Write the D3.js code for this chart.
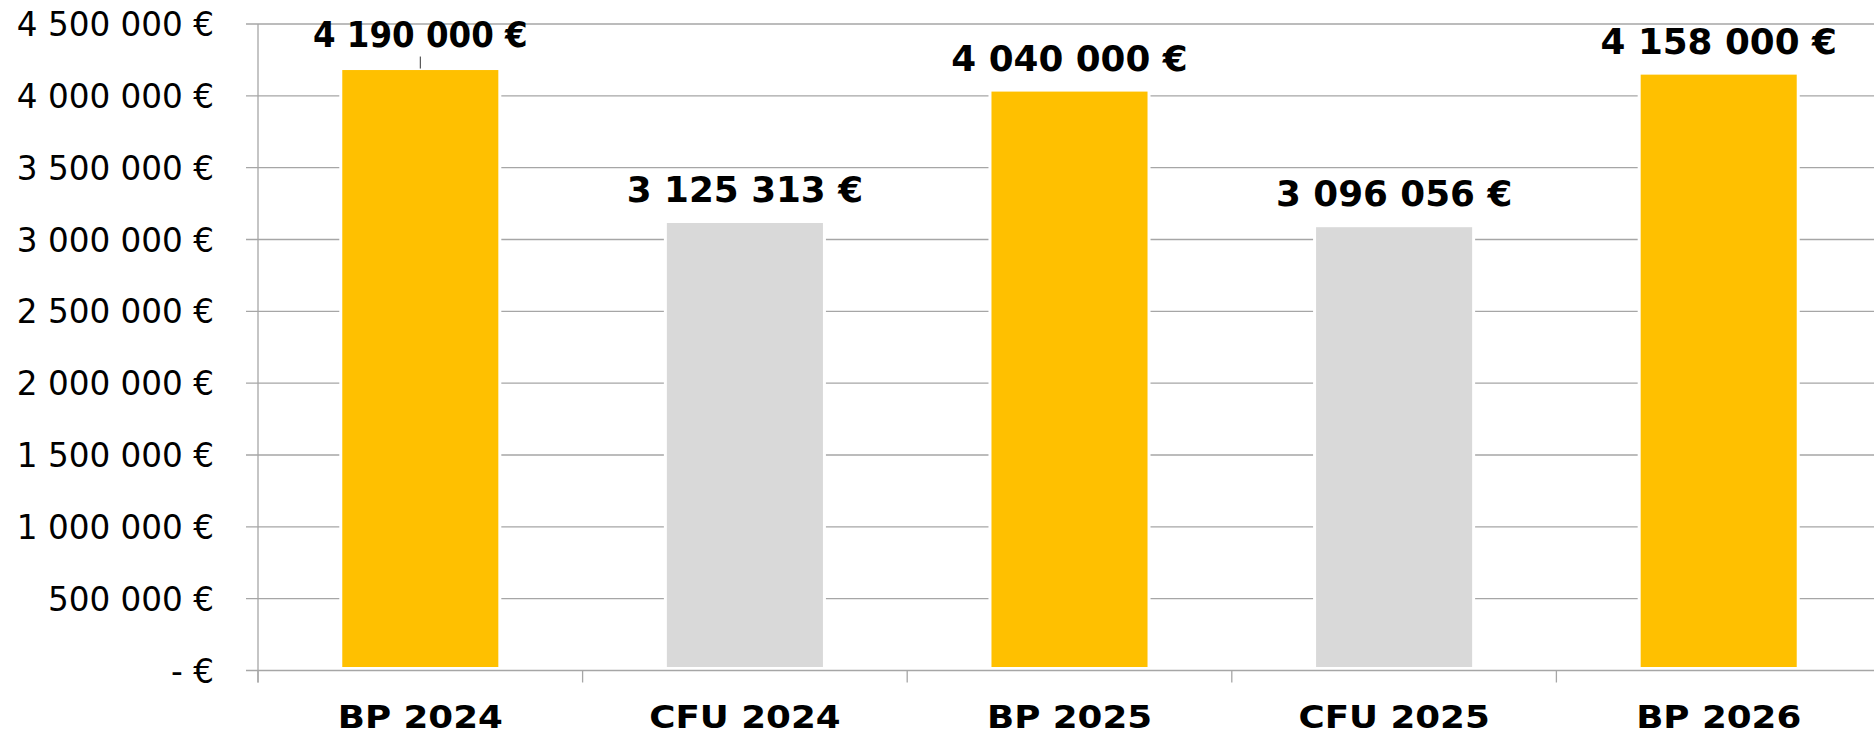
<!DOCTYPE html>
<html>
<head>
<meta charset="utf-8">
<script src="https://cdn.jsdelivr.net/npm/d3@7"></script>
<style>
  html, body { margin: 0; padding: 0; background: #fff; }
  svg { display: block; }
</style>
</head>
<body>
<svg id="chart"></svg>
<script>
"use strict";

// DATA
var categories = ["BP 2024", "CFU 2024", "BP 2025", "CFU 2025", "BP 2026"];
var values = [4190000, 3125313, 4040000, 3096056, 4158000];
var barColors = ["#FFC000", "#D9D9D9", "#FFC000", "#D9D9D9", "#FFC000"];
var yTicks = [0, 500000, 1000000, 1500000, 2000000, 2500000, 3000000, 3500000, 4000000, 4500000];
var yTickLabels = ["- €", "500 000 €", "1 000 000 €", "1 500 000 €", "2 000 000 €",
                   "2 500 000 €", "3 000 000 €", "3 500 000 €", "4 000 000 €", "4 500 000 €"];

var width = 1874,
    height = 735;

var plotLeft = 258,
    plotTop = 24,
    plotBottom = 670.5,
    band = 324.6;

var fr = d3.formatLocale({ decimal: ",", thousands: " ", grouping: [3], currency: ["", " €"] });
var money = fr.format("$,.0f");

var svg = d3.select("#chart").attr("width", width).attr("height", height);

var x = d3.scaleBand().domain(categories).range([plotLeft, plotLeft + band * categories.length]);
var y = d3.scaleLinear().domain([0, 4500000]).range([plotBottom, plotTop]);

var gridColor = "#A6A6A6";

// GRIDLINES
svg.append("g").selectAll("line")
  .data(yTicks.filter(function (d) { return d > 0; }))
  .enter().append("line")
  .attr("x1", plotLeft - 12).attr("x2", width)
  .attr("y1", function (d) { return y(d); })
  .attr("y2", function (d) { return y(d); })
  .attr("stroke", gridColor).attr("stroke-width", 1.3);

// BARS
var bw = x.bandwidth() * 0.49;
svg.append("g").selectAll("rect")
  .data(values)
  .enter().append("rect")
  .attr("x", function (d, i) { return x(categories[i]) + (x.bandwidth() - bw) / 2; })
  .attr("y", function (d) { return y(d); })
  .attr("width", bw)
  .attr("height", function (d) { return y(0) - y(d) - 2; })
  .attr("fill", function (d, i) { return barColors[i]; })
  .attr("stroke", "#fff").attr("stroke-width", 3);

// AXES
svg.append("line")
  .attr("x1", plotLeft).attr("x2", plotLeft)
  .attr("y1", plotTop).attr("y2", plotBottom + 12)
  .attr("stroke", gridColor).attr("stroke-width", 1.3);
svg.append("line")
  .attr("x1", plotLeft - 12).attr("x2", width)
  .attr("y1", plotBottom).attr("y2", plotBottom)
  .attr("stroke", gridColor).attr("stroke-width", 1.3);

svg.append("g").selectAll("line")
  .data(categories)
  .enter().append("line")
  .attr("x1", function (d) { return x(d); })
  .attr("x2", function (d) { return x(d); })
  .attr("y1", plotBottom).attr("y2", plotBottom + 12)
  .attr("stroke", gridColor).attr("stroke-width", 1.3);

// Y LABELS
svg.append("g").selectAll("text")
  .data(yTicks)
  .enter().append("text")
  .attr("transform", function (d) { return "translate(214," + (y(d) + 12) + ") scale(0.96,1)"; })
  .attr("text-anchor", "end")
  .attr("font-family", "DejaVu Sans, Verdana, sans-serif")
  .attr("font-size", 34)
  .attr("fill", "#000")
  .text(function (d, i) { return yTickLabels[i]; });

// X LABELS
svg.append("g").selectAll("text")
  .data(categories)
  .enter().append("text")
  .attr("transform", function (d) { return "translate(" + (x(d) + x.bandwidth() / 2) + ",728) scale(1.05,0.95)"; })
  .attr("text-anchor", "middle")
  .attr("font-family", "DejaVu Sans, Verdana, sans-serif")
  .attr("font-weight", "bold")
  .attr("font-size", 34)
  .attr("fill", "#000")
  .text(function (d) { return d; });

// DATA LABELS (first one was moved by hand in the original, hence narrower + leader)
svg.append("g").selectAll("text")
  .data(values)
  .enter().append("text")
  .attr("transform", function (d, i) {
    var cx = x(categories[i]) + x.bandwidth() / 2;
    if (i === 0) return "translate(" + cx + "," + (y(d) - 22) + ") scale(1.0,1.07)";
    return "translate(" + cx + "," + (y(d) - 19.5) + ") scale(1.10,1.09)";
  })
  .attr("text-anchor", "middle")
  .attr("font-family", "DejaVu Sans, Verdana, sans-serif")
  .attr("font-weight", "bold")
  .attr("font-size", 32.5)
  .attr("fill", "#000")
  .text(function (d) { return money(d); });

// leader line on first label
svg.append("line")
  .attr("x1", x(categories[0]) + x.bandwidth() / 2)
  .attr("x2", x(categories[0]) + x.bandwidth() / 2)
  .attr("y1", y(values[0]) - 12).attr("y2", y(values[0]))
  .attr("stroke", "#333").attr("stroke-width", 1);
</script>
</body>
</html>
